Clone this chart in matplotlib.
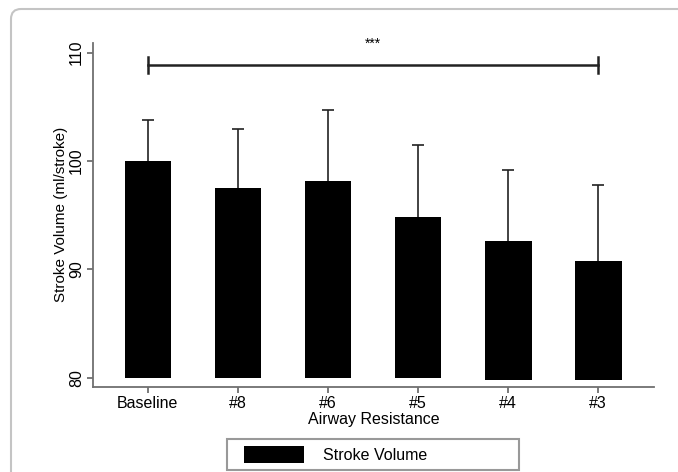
#!/usr/bin/env python3

import matplotlib
matplotlib.use("Agg")
import matplotlib.pyplot as plt
from matplotlib.patches import FancyBboxPatch, Rectangle
from matplotlib.container import BarContainer
from matplotlib.legend_handler import HandlerPatch, update_from_first_child
import numpy as np

plt.rcParams['font.family'] = ['Liberation Sans', 'DejaVu Sans']

categories = ["Baseline", "#8", "#6", "#5", "#4", "#3"]
means      = [100.0, 97.5, 98.2, 94.8, 92.6, 90.8]
upper_err  = [3.8, 5.5, 6.5, 6.7, 6.55, 7.0]
bar_base   = [80.0, 80.0, 80.0, 80.0, 79.82, 79.82]
yticks     = [80, 90, 100, 110]

# significance bracket: from first to last group
sig_from, sig_to = 0, 5
sig_y = 108.85
sig_cap = 0.75
sig_label = "***"

fs = 11.5
x = np.arange(len(categories))
means = np.array(means)
bar_base = np.array(bar_base)
tops = means + np.array(upper_err)

fig = plt.figure(figsize=(6.78, 4.72), dpi=100)
ax = fig.add_axes([93/678, 1-387/472, (654-93)/678, (387-42.7)/472])

ax.bar(x, means - bar_base, bottom=bar_base, width=0.52, color='black',
       label='Stroke Volume', zorder=2)
# upper error bars only
ax.vlines(x, means, tops, color='#222222', lw=1.2, zorder=1)
ax.plot(x, tops, ls='none', marker='_', ms=9, mew=1.2, color='#222222', zorder=1)

# bracket
ax.plot([sig_from, sig_to], [sig_y, sig_y], color='#222222', lw=1.8)
for xc in (sig_from, sig_to):
    ax.plot([xc, xc], [sig_y - sig_cap, sig_y + sig_cap], color='#222222', lw=1.8)
ax.text((sig_from + sig_to) / 2, sig_y + 1.3, sig_label, ha='center', va='bottom',
        fontsize=10)

ax.set_xlim(-0.61, 5.62)
ax.set_ylim(79.14, 110.92)
ax.set_xticks(x)
ax.set_xticklabels(categories, fontsize=fs)
ax.set_yticks(yticks)
ax.set_yticklabels([str(v) for v in yticks], rotation=90, va='center', fontsize=fs)
ax.set_xlabel('Airway Resistance', fontsize=fs, labelpad=1)
ax.set_ylabel('Stroke Volume (ml/stroke)', fontsize=11, labelpad=1)

for s in ('top', 'right'):
    ax.spines[s].set_visible(False)
for s in ('left', 'bottom'):
    ax.spines[s].set_color('#707070')
    ax.spines[s].set_linewidth(1.3)
ax.tick_params(axis='both', color='#707070', width=1.3, length=4.5, pad=2)

# legend patch shifted right inside its handle box
px = fs * 100 / 72.0
shift = 7.0


def shifted_patch(legend, orig_handle, xdescent, ydescent, width, height, fontsize):
    return Rectangle((-xdescent + shift, -ydescent), width - shift, height)


leg = ax.legend(loc='upper left', bbox_to_anchor=(226.7/678, 1-439/472, (519-226.7)/678, 0),
                bbox_transform=fig.transFigure, mode='expand', fontsize=fs,
                frameon=True, fancybox=False, edgecolor='#808080',
                handlelength=(63.0 + shift) / px, handleheight=1.25, handletextpad=1.2,
                borderpad=0.45, borderaxespad=0,
                handler_map={BarContainer: HandlerPatch(patch_func=shifted_patch,
                                                        update_func=update_from_first_child)})
leg.get_frame().set_linewidth(1.5)

# outer rounded frame
frame = FancyBboxPatch((11, -30), 900, 472 - 9 + 30, boxstyle="round,pad=0,rounding_size=10",
                       transform=None, facecolor='none', edgecolor='#c4c4c4', lw=1.5)
fig.patches.append(frame)

fig.savefig('out.png', dpi=100)
